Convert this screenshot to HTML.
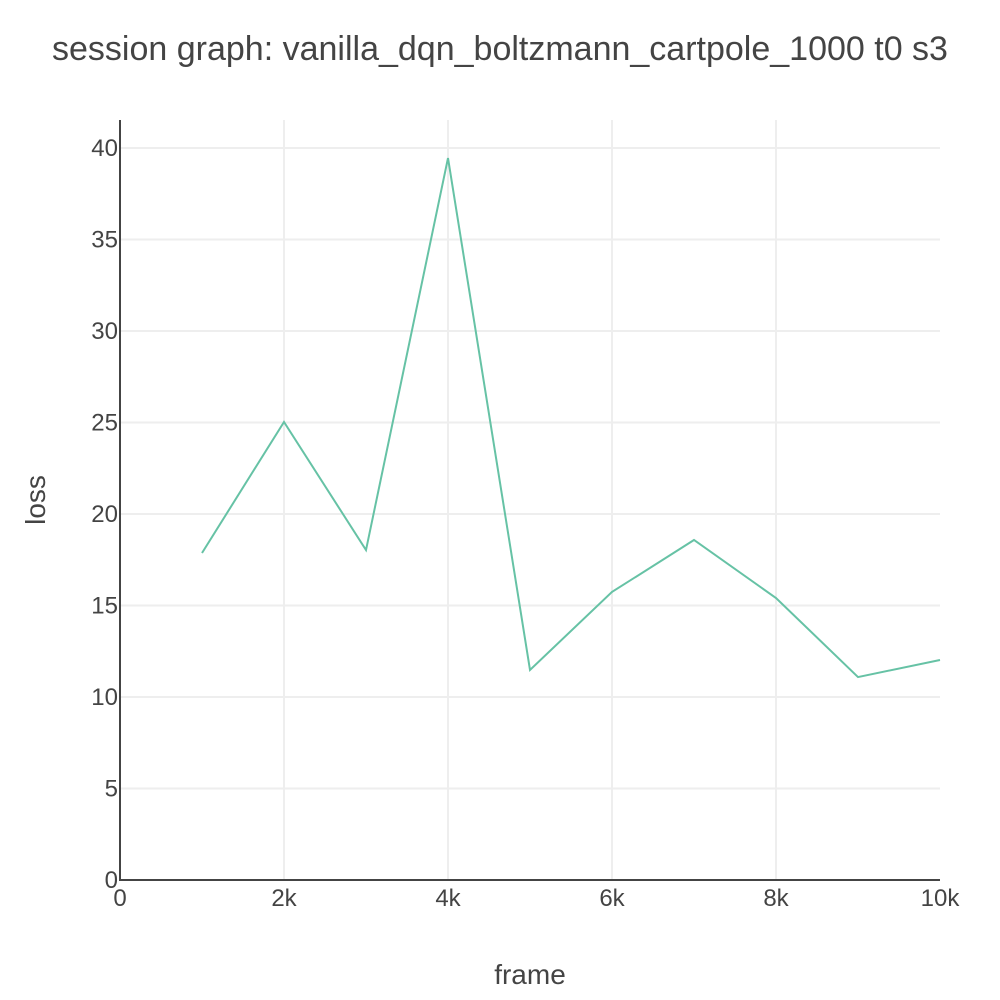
<!DOCTYPE html>
<html><head><meta charset="utf-8"><style>
body{margin:0;background:#fff;}
svg{display:block;font-family:"Liberation Sans",sans-serif;}
</style></head><body>
<svg id="chart" width="1000" height="1000">
<text x="500" y="60" text-anchor="middle" font-size="34" fill="#444">session graph: vanilla_dqn_boltzmann_cartpole_1000 t0 s3</text>
<g id="grid"></g>
<g id="axes"></g>
<path id="line" fill="none" stroke="#66c2a5" stroke-width="2"></path>
<text x="530" y="984" text-anchor="middle" font-size="28" fill="#444">frame</text>
<text transform="translate(45,500) rotate(-90)" text-anchor="middle" font-size="28" fill="#444">loss</text>
</svg>
<script>
const frames=[1000,2000,3000,4000,5000,6000,7000,8000,9000,10000];
const loss=[17.87,25.03,18.03,39.45,11.48,15.74,18.58,15.41,11.09,12.02];
const xTicks=[0,2000,4000,6000,8000,10000];
const xTickLabels=["0","2k","4k","6k","8k","10k"];
const yTicks=[0,5,10,15,20,25,30,35,40];
const NS="http://www.w3.org/2000/svg";
const X=v=>120+v/10000*820;
const Y=v=>880-v/40*732;
const grid=document.getElementById('grid'),axes=document.getElementById('axes');
function mk(tag,attrs,parent){const e=document.createElementNS(NS,tag);for(const k in attrs)e.setAttribute(k,attrs[k]);parent.appendChild(e);return e;}
xTicks.forEach((t,i)=>{
 if(t>0&&i<xTicks.length-1){const g=mk('line',{x1:X(t),x2:X(t),y1:120,y2:880,stroke:'#eee','stroke-width':2},grid);
 
 }
 const l=mk('text',{x:X(t),y:906,'text-anchor':'middle','font-size':24,fill:'#444'},axes);
 l.textContent=xTickLabels[i];
 
 
});
yTicks.forEach(t=>{
 if(t>0){const g=mk('line',{x1:120,x2:940,y1:Y(t),y2:Y(t),stroke:'#eee','stroke-width':2},grid);
 
 }
 const l=mk('text',{x:118,y:Y(t)+8,'text-anchor':'end','font-size':24,fill:'#444'},axes);
 l.textContent=t;
 
 
});
const xa=mk('line',{x1:119,x2:940,y1:880,y2:880,stroke:'#444','stroke-width':2},axes);


const ya=mk('line',{x1:120,x2:120,y1:120,y2:881,stroke:'#444','stroke-width':2},axes);


document.getElementById('line').setAttribute('d',frames.map((f,i)=>(i?'L':'M')+X(f)+','+Y(loss[i])).join(' '));
</script>
</body></html>
